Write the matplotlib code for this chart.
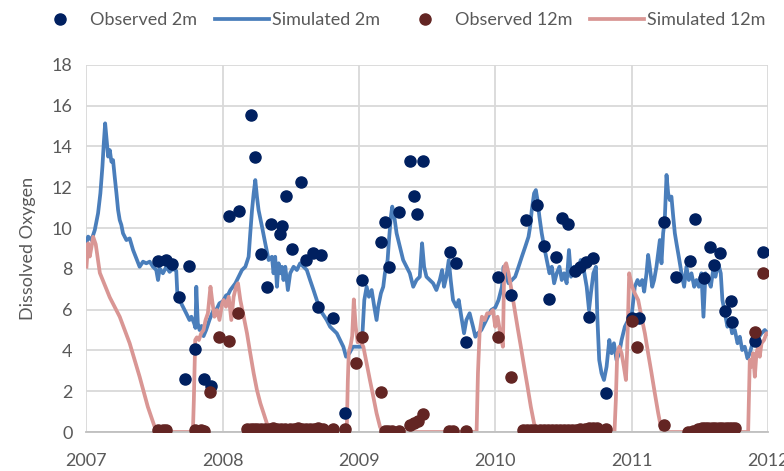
import matplotlib
matplotlib.use("Agg")
import matplotlib.pyplot as plt
from matplotlib.lines import Line2D

# ---- Simulated dissolved oxygen at 2 m (decimal year, mg/L) ----
sim2_t = [
    2007.000, 2007.012, 2007.037, 2007.061, 2007.085, 2007.102, 2007.117, 2007.127, 2007.137, 2007.146,
    2007.159, 2007.171, 2007.183, 2007.195, 2007.207, 2007.220, 2007.232, 2007.244, 2007.256, 2007.268,
    2007.293, 2007.317, 2007.342, 2007.366, 2007.390, 2007.415, 2007.439, 2007.464, 2007.488, 2007.512,
    2007.525, 2007.537, 2007.561, 2007.586, 2007.610, 2007.634, 2007.659, 2007.668, 2007.683, 2007.708,
    2007.732, 2007.756, 2007.770, 2007.790, 2007.800, 2007.806, 2007.817, 2007.830, 2007.845, 2007.859,
    2007.878, 2007.903, 2007.927, 2007.952, 2007.976, 2008.000, 2008.025,
    2008.032, 2008.056, 2008.093, 2008.117, 2008.141, 2008.166, 2008.190, 2008.202, 2008.215, 2008.227,
    2008.239, 2008.251, 2008.263, 2008.288, 2008.312, 2008.337, 2008.361, 2008.373, 2008.385, 2008.398,
    2008.410, 2008.422, 2008.434, 2008.446, 2008.459, 2008.478, 2008.495, 2008.520, 2008.544, 2008.568,
    2008.593, 2008.617, 2008.641, 2008.666, 2008.690, 2008.715, 2008.739, 2008.763, 2008.788, 2008.812,
    2008.837, 2008.861, 2008.885, 2008.905, 2008.930, 2008.955, 2008.995,
    2009.020, 2009.039, 2009.056, 2009.073, 2009.093, 2009.112, 2009.129, 2009.141, 2009.161, 2009.178,
    2009.190, 2009.210, 2009.220, 2009.234, 2009.244, 2009.259, 2009.276, 2009.300, 2009.324, 2009.349,
    2009.373, 2009.398, 2009.422, 2009.446, 2009.463, 2009.478, 2009.495, 2009.520, 2009.544, 2009.568,
    2009.593, 2009.610, 2009.624, 2009.641, 2009.659, 2009.673, 2009.690, 2009.715, 2009.732, 2009.751,
    2009.771, 2009.788, 2009.812, 2009.837, 2009.854, 2009.873, 2009.898, 2009.922, 2009.946, 2009.971,
    2010.000, 2010.024, 2010.049, 2010.061, 2010.080, 2010.098, 2010.122, 2010.146, 2010.171, 2010.195,
    2010.220, 2010.244, 2010.256, 2010.268, 2010.285, 2010.298, 2010.310, 2010.324, 2010.341, 2010.359,
    2010.378, 2010.398, 2010.415, 2010.432, 2010.451, 2010.471, 2010.488, 2010.505, 2010.524, 2010.541,
    2010.556, 2010.578, 2010.602, 2010.627, 2010.646, 2010.671, 2010.688, 2010.702, 2010.720, 2010.739,
    2010.749, 2010.763, 2010.780, 2010.798, 2010.817, 2010.837, 2010.854, 2010.871, 2010.890, 2010.910,
    2010.927, 2010.951, 2010.976, 2011.000,
    2011.024, 2011.044, 2011.061, 2011.078, 2011.093, 2011.110, 2011.122, 2011.137, 2011.152, 2011.166,
    2011.183, 2011.196, 2011.208, 2011.220, 2011.232, 2011.244, 2011.257, 2011.269, 2011.281, 2011.293,
    2011.306, 2011.318, 2011.330, 2011.347, 2011.367, 2011.386, 2011.403, 2011.421, 2011.440, 2011.460,
    2011.477, 2011.494, 2011.513, 2011.528, 2011.543, 2011.562, 2011.582, 2011.599, 2011.616, 2011.636,
    2011.655, 2011.667, 2011.685, 2011.704, 2011.721, 2011.738, 2011.758, 2011.778, 2011.795, 2011.812,
    2011.831, 2011.851, 2011.868, 2011.888, 2011.910, 2011.929, 2011.954, 2011.978, 2011.998,
]
sim2_v = [
    9.25, 9.58, 9.41, 9.90, 10.72, 11.70, 13.01, 14.15, 15.13, 14.48,
    13.50, 13.82, 13.25, 13.33, 12.52, 11.70, 10.88, 10.39, 10.15, 9.74,
    9.41, 9.49, 8.92, 8.51, 8.10, 8.35, 8.27, 8.35, 8.10, 7.94,
    7.45, 8.02, 7.78, 8.10, 7.85, 8.00, 7.90, 6.60, 6.47, 6.14,
    5.82, 5.49, 5.65, 5.33, 5.10, 7.12, 5.33, 5.00, 5.20, 4.70,
    5.00, 5.50, 5.90, 5.98, 6.31, 6.40, 6.70,
    6.63, 6.96, 7.29, 7.61, 7.94, 8.10, 8.59, 9.74, 10.88, 11.70,
    12.35, 11.54, 10.88, 10.07, 9.25, 8.43, 8.59, 7.78, 8.59, 7.12,
    8.27, 7.78, 8.10, 7.45, 8.10, 6.96, 7.78, 8.10, 7.94, 8.27,
    8.10, 7.94, 7.45, 6.96, 6.47, 5.98, 5.74, 5.49, 5.16, 5.00,
    4.84, 4.51, 4.18, 3.69, 3.87, 4.18, 4.18,
    4.18, 6.47, 7.12, 6.63, 6.96, 6.14, 5.49, 6.14, 6.80, 7.12,
    7.78, 8.43, 9.41, 10.56, 11.05, 10.56, 9.74, 9.08, 8.43, 8.10,
    7.78, 7.12, 7.45, 7.61, 9.25, 8.10, 7.61, 7.45, 7.29, 6.96,
    7.45, 7.94, 7.12, 7.61, 8.43, 7.45, 6.47, 6.14, 6.47, 5.65,
    4.84, 5.49, 5.82, 5.16, 4.67, 4.84, 5.00, 5.33, 5.65, 5.98,
    6.10, 6.47, 7.12, 8.10, 7.61, 7.29, 7.45, 7.61, 8.10, 8.59,
    9.08, 9.57, 10.07, 10.88, 11.70, 11.86, 11.37, 10.56, 9.74, 9.08,
    8.43, 7.78, 8.10, 7.29, 7.78, 8.10, 7.45, 7.78, 7.29, 8.92,
    7.61, 8.10, 7.78, 8.43, 8.10, 7.12, 5.98, 6.80, 7.78, 8.10,
    5.65, 3.53, 2.88, 2.55, 3.20, 4.51, 3.86, 4.35, 3.53, 3.86,
    4.51, 5.16, 5.49, 5.65,
    7.12, 7.45, 7.20, 7.45, 6.88, 7.78, 8.68, 7.94, 7.12, 7.45,
    8.10, 8.76, 9.41, 8.27, 9.74, 10.39, 12.60, 11.70, 11.37, 11.54,
    10.56, 9.74, 9.25, 8.59, 7.78, 7.12, 8.10, 7.45, 7.78, 7.12,
    7.45, 7.12, 7.78, 5.65, 7.78, 7.45, 7.12, 7.94, 7.61, 8.27,
    7.78, 6.47, 5.82, 5.16, 5.49, 4.84, 5.00, 4.35, 4.67, 4.02,
    4.18, 3.61, 3.86, 4.35, 4.84, 4.59, 4.84, 5.00, 4.84,
]

# ---- Simulated dissolved oxygen at 12 m ----
sim12_t = [
    2007.000, 2007.012, 2007.024, 2007.037, 2007.049, 2007.068, 2007.098, 2007.171, 2007.244, 2007.317,
    2007.390, 2007.450, 2007.500, 2007.520, 2007.781, 2007.788, 2007.798, 2007.810, 2007.825, 2007.842,
    2007.859, 2007.874, 2007.891, 2007.910, 2007.922, 2007.939, 2007.957, 2007.976, 2007.996, 2008.007,
    2008.024, 2008.044, 2008.063, 2008.080, 2008.098, 2008.112, 2008.129, 2008.154, 2008.178, 2008.202,
    2008.227, 2008.251, 2008.276, 2008.300, 2008.324, 2008.349, 2008.910, 2008.918, 2008.925, 2008.940,
    2008.950, 2008.962, 2008.976, 2008.990, 2009.007, 2009.032, 2009.056, 2009.080, 2009.105, 2009.129,
    2009.154, 2009.171, 2009.863, 2009.873, 2009.885, 2009.902, 2009.922, 2009.941, 2009.963, 2009.983,
    2010.000, 2010.017, 2010.037, 2010.056, 2010.066, 2010.080, 2010.098, 2010.115, 2010.139, 2010.163,
    2010.188, 2010.212, 2010.237, 2010.261, 2010.285, 2010.305, 2010.875, 2010.885, 2010.895, 2010.910,
    2010.927, 2010.944, 2010.959, 2010.968, 2010.983, 2011.005, 2011.024, 2011.049, 2011.073, 2011.098,
    2011.122, 2011.147, 2011.171, 2011.196, 2011.220, 2011.240, 2011.856, 2011.868, 2011.880, 2011.892,
    2011.905, 2011.917, 2011.929, 2011.941, 2011.954, 2011.973, 2011.990, 2012.000,
]
sim12_v = [
    8.10, 9.25, 8.60, 9.08, 9.57, 9.20, 7.80, 6.60, 5.65, 4.35,
    2.71, 1.24, 0.26, 0.00, 0.00, 1.57, 4.51, 4.64, 4.51, 4.84,
    5.00, 5.49, 5.82, 7.12, 6.47, 5.65, 5.98, 5.49, 6.30, 6.47,
    6.14, 6.63, 5.49, 6.63, 7.12, 7.29, 6.47, 5.65, 4.84, 3.86,
    2.88, 2.06, 1.41, 0.92, 0.42, 0.00, 0.00, 2.50, 3.90, 4.30,
    4.70, 6.50, 5.16, 4.40, 4.51, 4.18, 3.37, 2.55, 1.73, 0.92,
    0.26, 0.00, 0.00, 2.88, 4.84, 5.65, 5.49, 5.82, 5.82, 5.98,
    5.16, 5.65, 4.84, 4.18, 8.10, 8.27, 7.78, 7.12, 6.14, 5.16,
    4.18, 3.20, 2.22, 1.24, 0.42, 0.00, 0.00, 1.57, 3.86, 4.18,
    3.86, 3.20, 2.55, 4.02, 7.78, 7.12, 6.80, 6.47, 5.65, 4.84,
    3.86, 2.88, 1.90, 0.92, 0.10, 0.00, 0.00, 3.53, 3.20, 3.86,
    2.71, 3.86, 4.18, 3.69, 4.35, 4.51, 4.84, 4.84,
]

# ---- Observed dissolved oxygen at 2 m ----
obs2_t = [
    2007.524, 2007.580, 2007.630, 2007.676, 2007.720, 2007.756, 2007.793, 2007.866, 2007.915,
    2008.044, 2008.117, 2008.207, 2008.239, 2008.280, 2008.324, 2008.356, 2008.417, 2008.434,
    2008.463, 2008.507, 2008.576, 2008.610, 2008.659, 2008.702, 2008.722, 2008.812, 2008.898,
    2009.024, 2009.161, 2009.190, 2009.220, 2009.293, 2009.378, 2009.402, 2009.429, 2009.471,
    2009.671, 2009.715, 2009.788,
    2010.017, 2010.115, 2010.227, 2010.305, 2010.361, 2010.393, 2010.444, 2010.488, 2010.532,
    2010.585, 2010.622, 2010.666, 2010.690, 2010.715, 2010.812,
    2011.005, 2011.054, 2011.240, 2011.325, 2011.428, 2011.465, 2011.530, 2011.575, 2011.606,
    2011.648, 2011.685, 2011.729, 2011.741, 2011.905, 2011.966,
]
obs2_v = [
    8.40, 8.43, 8.24, 6.60, 2.58, 8.15, 4.05, 2.58, 2.27,
    10.59, 10.83, 15.54, 13.46, 8.73, 7.12, 10.20, 9.70, 10.11,
    11.57, 8.99, 12.24, 8.43, 8.76, 6.14, 8.68, 5.57, 0.95,
    7.45, 9.33, 10.29, 8.07, 10.78, 13.27, 11.57, 10.69, 13.30,
    8.84, 8.30, 4.40,
    7.58, 6.72, 10.39, 11.11, 9.13, 6.50, 8.59, 10.49, 10.20,
    7.91, 8.10, 8.32, 5.62, 8.53, 1.93,
    5.57, 5.57, 10.31, 7.58, 8.40, 10.44, 7.53, 9.08, 8.19,
    8.76, 5.93, 6.42, 5.41, 4.48, 8.84,
]

# ---- Observed dissolved oxygen at 12 m ----
obs12_t = [
    2007.524, 2007.560, 2007.580, 2007.793, 2007.840, 2007.866, 2007.910, 2007.970, 2008.044, 2008.112,
    2008.180, 2008.205, 2008.230, 2008.255, 2008.280, 2008.310, 2008.340, 2008.370, 2008.400, 2008.430,
    2008.460, 2008.490, 2008.520, 2008.550, 2008.580, 2008.610, 2008.640, 2008.670, 2008.700, 2008.735,
    2008.812, 2008.898, 2008.976,
    2009.024, 2009.161, 2009.190, 2009.215, 2009.240, 2009.290, 2009.378, 2009.405, 2009.434, 2009.471,
    2009.659, 2009.690, 2009.788,
    2010.017, 2010.115, 2010.207, 2010.235, 2010.265, 2010.295, 2010.325, 2010.355, 2010.385, 2010.415,
    2010.445, 2010.475, 2010.505, 2010.535, 2010.565, 2010.595, 2010.625, 2010.655, 2010.685, 2010.715,
    2010.744, 2010.812,
    2011.005, 2011.037, 2011.240, 2011.416, 2011.452, 2011.489, 2011.515, 2011.540, 2011.565, 2011.590,
    2011.615, 2011.640, 2011.665, 2011.690, 2011.715, 2011.740, 2011.758, 2011.905, 2011.966,
]
obs12_v = [
    0.10, 0.10, 0.10, 0.10, 0.08, 0.05, 1.96, 4.64, 4.48, 5.85,
    0.15, 0.15, 0.15, 0.15, 0.15, 0.15, 0.15, 0.18, 0.15, 0.15,
    0.15, 0.15, 0.15, 0.18, 0.15, 0.15, 0.15, 0.15, 0.18, 0.15,
    0.13, 0.15, 3.40,
    4.64, 1.96, 0.07, 0.07, 0.07, 0.07, 0.34, 0.46, 0.56, 0.87,
    0.07, 0.07, 0.07,
    4.67, 2.71, 0.10, 0.10, 0.10, 0.10, 0.10, 0.10, 0.10, 0.10,
    0.10, 0.10, 0.10, 0.10, 0.12, 0.12, 0.15, 0.15, 0.18, 0.18,
    0.18, 0.13,
    5.46, 4.18, 0.34, 0.00, 0.07, 0.15, 0.18, 0.18, 0.18, 0.18,
    0.18, 0.18, 0.18, 0.18, 0.18, 0.18, 0.18, 4.89, 7.78,
]

year_ticks = [2007, 2008, 2009, 2010, 2011, 2012]
do_ticks = [0, 2, 4, 6, 8, 10, 12, 14, 16, 18]

C_OBS2 = "#002060"
C_SIM2 = "#4A7EBB"
C_OBS12 = "#632523"
C_SIM12 = "#D99694"
C_TEXT = "#595959"
C_GRID = "#D9D9D9"
LW = 2.7
MS = 8

plt.rcParams["font.family"] = ["Lato", "DejaVu Sans"]

fig = plt.figure(figsize=(7.84, 4.71), dpi=100)
ax = fig.add_axes([0.1103, 0.0828, 0.869, 0.7796])

ax.plot(sim2_t, sim2_v, color=C_SIM2, lw=LW, zorder=2, solid_joinstyle="round")
ax.plot(sim12_t, sim12_v, color=C_SIM12, lw=LW, zorder=2, solid_joinstyle="round")
ax.plot(obs2_t, obs2_v, ls="none", marker="o", ms=MS, color=C_OBS2, mec=C_OBS2, zorder=3)
ax.plot(obs12_t, obs12_v, ls="none", marker="o", ms=MS, color=C_OBS12, mec=C_OBS12, zorder=4)

ax.set_xlim(year_ticks[0], year_ticks[-1])
ax.set_ylim(do_ticks[0], do_ticks[-1])
ax.set_xticks(year_ticks)
ax.set_xticklabels([str(y) for y in year_ticks])
ax.set_yticks(do_ticks)

ax.grid(True, color=C_GRID, lw=1.3, zorder=0)
ax.set_axisbelow(True)
for side in ("top", "right", "left"):
    ax.spines[side].set_visible(False)
ax.spines["bottom"].set_color("#BFBFBF")
ax.spines["bottom"].set_linewidth(1.3)

ax.tick_params(axis="both", length=0, labelsize=13, labelcolor=C_TEXT)
ax.tick_params(axis="x", pad=15)
ax.tick_params(axis="y", pad=10)
ax.set_ylabel("Dissolved Oxygen", fontsize=13, color=C_TEXT, labelpad=11)

handles = [
    Line2D([], [], ls="none", marker="o", ms=MS, color=C_OBS2),
    Line2D([], [], color=C_SIM2, lw=LW),
    Line2D([], [], ls="none", marker="o", ms=MS, color=C_OBS12),
    Line2D([], [], color=C_SIM12, lw=LW),
]
labels = ["Observed 2m", "Simulated 2m", "Observed 12m", "Simulated 12m"]
leg = fig.legend(handles, labels, loc="center", bbox_to_anchor=(0.509, 0.957), ncol=4,
                 frameon=False, fontsize=13, handlelength=3.0, handletextpad=0.15,
                 columnspacing=1.0)
for t in leg.get_texts():
    t.set_color(C_TEXT)

fig.savefig("out.png", dpi=100)
